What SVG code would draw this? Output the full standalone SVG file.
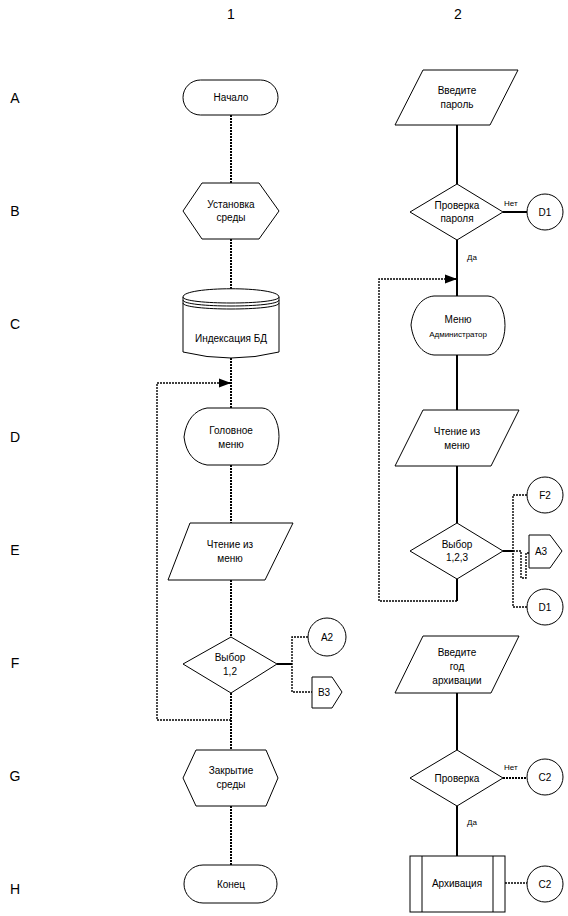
<svg xmlns="http://www.w3.org/2000/svg" width="568" height="916" viewBox="0 0 568 916">
<defs>
<style>
.s{fill:#fff;stroke:#000;stroke-width:1}
.t{font-family:"Liberation Sans",Arial,sans-serif;font-size:10px;fill:#000;text-anchor:middle}
.sm{font-size:8px}
.lbl{font-family:"Liberation Sans",Arial,sans-serif;font-size:14px;fill:#000;text-anchor:middle}
.yn{font-family:"Liberation Sans",Arial,sans-serif;font-size:8px;fill:#000}
.c1{fill:none;stroke:#000;stroke-width:2;stroke-dasharray:2 1}
.c2{fill:none;stroke:#000;stroke-width:2}
.d{fill:none;stroke:#000;stroke-width:1.4;stroke-dasharray:2 1}
.th{fill:none;stroke:#000;stroke-width:2}
</style>
<marker id="ah" viewBox="0 0 12 10" refX="12" refY="5" markerWidth="12" markerHeight="10" markerUnits="userSpaceOnUse" orient="auto">
<path d="M0,0.5 L12,5 L0,9.5 Z" fill="#000"/>
</marker>
</defs>
<rect width="568" height="916" fill="#fff"/>

<g id="labels">
<text class="lbl" x="231" y="19">1</text>
<text class="lbl" x="458" y="19">2</text>
<text class="lbl" x="15" y="103">A</text>
<text class="lbl" x="15" y="216">B</text>
<text class="lbl" x="15" y="329">C</text>
<text class="lbl" x="15" y="442">D</text>
<text class="lbl" x="15" y="555">E</text>
<text class="lbl" x="15" y="668">F</text>
<text class="lbl" x="15" y="781">G</text>
<text class="lbl" x="15" y="894">H</text>
</g>

<g id="connectors">
<line class="c1" x1="231" y1="115" x2="231" y2="183"/>
<line class="c1" x1="231" y1="239" x2="231" y2="289"/>
<line class="c1" x1="231" y1="358" x2="231" y2="408"/>
<line class="c1" x1="231" y1="465" x2="231" y2="523"/>
<line class="c1" x1="231" y1="580" x2="231" y2="637"/>
<line class="c1" x1="231" y1="693" x2="231" y2="750"/>
<line class="c1" x1="231" y1="806" x2="231" y2="865"/>
<polyline class="d" points="231,720 157,720 157,383 219,383"/>
<line class="th" x1="219" y1="383" x2="231" y2="383" marker-end="url(#ah)"/>
<line class="th" x1="277" y1="664" x2="292" y2="664"/>
<polyline class="d" points="308,637 292,637 292,692 312,692"/>

<line class="c2" x1="457" y1="125" x2="457" y2="184"/>
<line class="th" x1="503" y1="212" x2="527" y2="212"/>
<line class="c2" x1="457" y1="240" x2="457" y2="296"/>
<polyline class="d" points="457,601 379,601 379,279 445,279"/>
<line class="th" x1="445" y1="279" x2="457" y2="279" marker-end="url(#ah)"/>
<line class="c2" x1="457" y1="355" x2="457" y2="410"/>
<line class="c2" x1="457" y1="466" x2="457" y2="523"/>
<line class="c2" x1="457" y1="579" x2="457" y2="601"/>
<line class="th" x1="503" y1="551" x2="513" y2="551"/>
<polyline class="d" points="527,495 513,495 513,607 527,607"/>
<polyline class="d" points="513,551 521,551 521,578 526,578 526,553 529,553"/>
<line class="c2" x1="457" y1="693" x2="457" y2="750"/>
<line class="c1" x1="503" y1="778" x2="527" y2="778"/>
<line class="c2" x1="457" y1="806" x2="457" y2="856"/>
<line class="d" x1="505" y1="883" x2="527" y2="883"/>
<text class="yn" x="504" y="206">Нет</text>
<text class="yn" x="467" y="260">Да</text>
<text class="yn" x="504" y="770">Нет</text>
<text class="yn" x="467" y="825">Да</text>
</g>

<g id="A1">
<rect class="s" x="183" y="80" width="95" height="35" rx="17.5"/>
<text class="t" x="231" y="101">Начало</text>
</g>
<g id="B1">
<polygon class="s" points="202,183 259,183 279,211 259,239 202,239 183,211"/>
<text class="t" x="231" y="208">Установка</text>
<text class="t" x="231" y="221">среды</text>
</g>
<g id="C1">
<path class="s" d="M183,297 L183,352 Q231,364 279,352 L279,297 C279,286 183,286 183,297 Z"/>
<path fill="none" stroke="#000" d="M183,297 C183,305 279,305 279,297 M183,300 C183,308 279,308 279,300 M183,303 C183,311 279,311 279,303"/>
<text class="t" x="231" y="342">Индексация БД</text>
</g>
<g id="D1">
<path class="s" d="M184,437 C186,420 195,410 207,408 L262,408 A17,28.5 0 0 1 262,465 L207,465 C195,463 186,454 184,437 Z"/>
<text class="t" x="231" y="434">Головное</text>
<text class="t" x="231" y="448">меню</text>
</g>
<g id="E1">
<polygon class="s" points="190,523 293,523 265,580 168,580"/>
<text class="t" x="230" y="548">Чтение из</text>
<text class="t" x="230" y="562">меню</text>
</g>
<g id="F1">
<polygon class="s" points="231,637 277,664 231,693 183,664"/>
<text class="t" x="230" y="661">Выбор</text>
<text class="t" x="230" y="675">1,2</text>
</g>
<g id="F1-A2">
<circle class="s" cx="327" cy="637" r="19"/>
<text class="t" x="327" y="641">A2</text>
</g>
<g id="F1-B3">
<polygon class="s" points="312,677 332,677 342,692 332,708 312,708"/>
<text class="t" x="324" y="696">B3</text>
</g>
<g id="G1">
<polygon class="s" points="196,750 266,750 278,778 266,806 196,806 183,778"/>
<text class="t" x="231" y="774">Закрытие</text>
<text class="t" x="231" y="788">среды</text>
</g>
<g id="H1">
<rect class="s" x="184" y="865" width="93" height="38" rx="19"/>
<text class="t" x="231" y="888">Конец</text>
</g>

<g id="A2">
<polygon class="s" points="423,70 518,70 490,125 395,125"/>
<text class="t" x="457" y="94">Введите</text>
<text class="t" x="457" y="108">пароль</text>
</g>
<g id="B2">
<polygon class="s" points="457,184 503,212 457,240 410,212"/>
<text class="t" x="457" y="209">Проверка</text>
<text class="t" x="457" y="222">пароля</text>
</g>
<g id="B2-D1">
<circle class="s" cx="545" cy="212" r="18"/>
<text class="t" x="545" y="216">D1</text>
</g>
<g id="C2">
<path class="s" d="M411,325 C413,308 422,297 434,296 L488,296 A17,29.5 0 0 1 488,355 L434,355 C422,354 413,342 411,325 Z"/>
<text class="t" x="458" y="323">Меню</text>
<text class="t sm" x="458" y="337">Администратор</text>
</g>
<g id="D2">
<polygon class="s" points="423,410 519,410 491,466 395,466"/>
<text class="t" x="457" y="435">Чтение из</text>
<text class="t" x="457" y="449">меню</text>
</g>
<g id="E2">
<polygon class="s" points="457,523 503,551 457,579 410,551"/>
<text class="t" x="457" y="548">Выбор</text>
<text class="t" x="457" y="561">1,2,3</text>
</g>
<g id="E2-F2">
<circle class="s" cx="545" cy="495" r="18"/>
<text class="t" x="545" y="499">F2</text>
</g>
<g id="E2-A3">
<polygon class="s" points="529,535 550,535 562,551 550,568 529,568"/>
<text class="t" x="541" y="555">A3</text>
</g>
<g id="E2-D1">
<circle class="s" cx="545" cy="607" r="18"/>
<text class="t" x="545" y="611">D1</text>
</g>
<g id="F2">
<polygon class="s" points="423,636 519,636 491,693 395,693"/>
<text class="t" x="457" y="656">Введите</text>
<text class="t" x="457" y="670">год</text>
<text class="t" x="457" y="684">архивации</text>
</g>
<g id="G2">
<polygon class="s" points="457,750 503,778 457,806 410,778"/>
<text class="t" x="457" y="782">Проверка</text>
</g>
<g id="G2-C2">
<circle class="s" cx="545" cy="777" r="18"/>
<text class="t" x="545" y="781">C2</text>
</g>
<g id="H2">
<rect class="s" x="410" y="856" width="95" height="56"/>
<line stroke="#000" x1="422" y1="856" x2="422" y2="912"/>
<line stroke="#000" x1="493" y1="856" x2="493" y2="912"/>
<text class="t" x="457" y="887">Архивация</text>
</g>
<g id="H2-C2">
<circle class="s" cx="545" cy="884" r="18"/>
<text class="t" x="545" y="888">C2</text>
</g>
</svg>
